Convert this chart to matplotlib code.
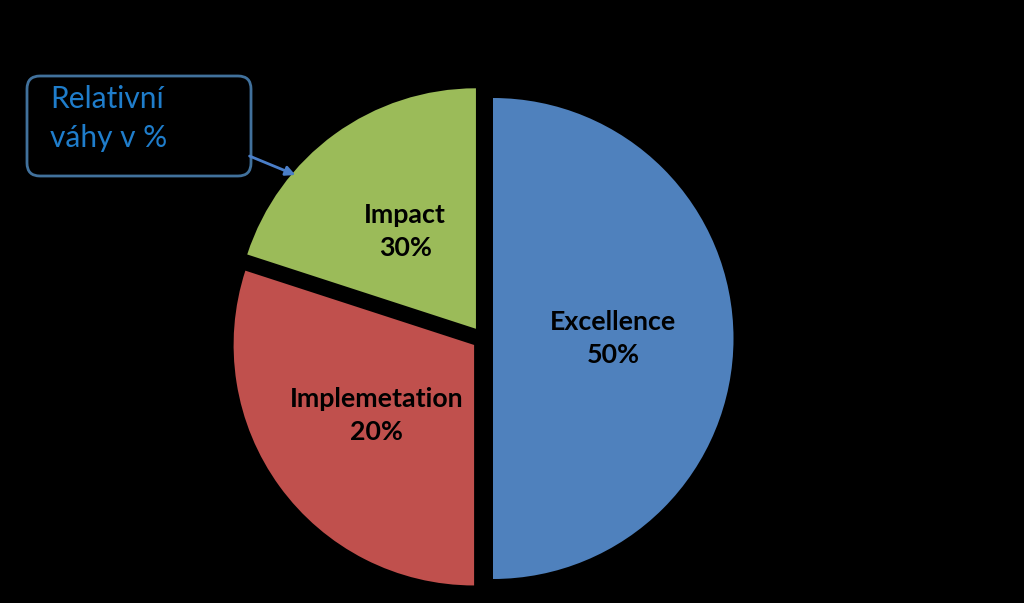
import matplotlib.pyplot as plt
from matplotlib.patches import FancyBboxPatch

# slice data (geometry as drawn in the source) and the printed label texts
names = ["Excellence", "Implemetation", "Impact"]
sizes = [50, 30, 20]
pct_texts = ["50%", "20%", "30%"]
colors = ["#4F81BD", "#C0504D", "#9BBB59"]

callout_text = "Relativní\nváhy v %"

W, H = 1024, 603
fig = plt.figure(figsize=(W / 100, H / 100), dpi=100, facecolor="black")
ax = fig.add_axes([0, 0, 1, 1])
ax.set_facecolor("black")

labels = [f"{n}\n{p}" for n, p in zip(names, pct_texts)]
wedges, texts = ax.pie(
    sizes,
    labels=labels,
    colors=colors,
    startangle=90,
    counterclock=False,
    explode=[10, 11, 12],  # pixel offsets (data units here)
    center=(483, H - 338.5),
    radius=240.5,
    labeldistance=0.5,
    wedgeprops=dict(linewidth=0),
    textprops=dict(fontsize=19.3, fontweight="bold", color="black", family="Lato"),
    frame=True,
)
for t in texts:
    t.set_ha("center")
    t.set_va("center")
    t.set_multialignment("center")
    t.set_linespacing(1.47)
ax.set_xlim(0, W)
ax.set_ylim(0, H)
ax.set_aspect("equal")
ax.axis("off")

# callout box
box = FancyBboxPatch(
    (27, H - 176), 224, 100,
    boxstyle="round,pad=0,rounding_size=13",
    facecolor="black", edgecolor="#41719C", linewidth=2,
)
ax.add_patch(box)
ax.text(50, H - 118.5, callout_text, color="#1F7DCB", fontsize=21.5,
        family="Lato", ha="left", va="center", linespacing=1.5)
ax.annotate(
    "", xy=(298, H - 176), xytext=(247, H - 155),
    arrowprops=dict(arrowstyle="-|>", color="#4A7EC8", lw=2, mutation_scale=14),
)

fig.savefig("out.png", dpi=100, facecolor="black")
